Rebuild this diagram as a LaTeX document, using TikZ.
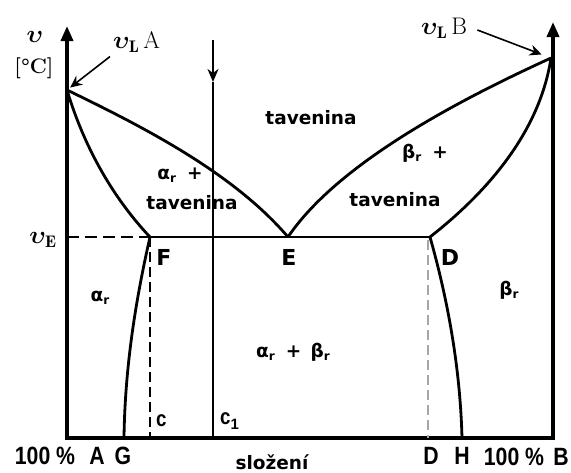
\documentclass[tikz,border=0pt]{standalone}
\usepackage{bm}
\usepackage{fontspec}
\usetikzlibrary{arrows.meta}
\newfontfamily\dvs{DejaVu Sans}
\newfontfamily\lsn{Liberation Sans}
\newcommand\mysubr{\raisebox{-0.35ex}{\fontsize{12}{12}\selectfont r}}
\newcommand\mytheta{\ensuremath{\bm{\upsilon}}}
\newcommand\narrow[1]{\scalebox{0.85}[1]{#1}}
\begin{document}
\begin{tikzpicture}[x=1pt,y=-1pt,
  axisln/.style={line width=3.5pt,line join=miter},
  curveln/.style={line width=2.8pt},
  thinln/.style={line width=1.6pt},
  dashln/.style={line width=1.8pt,dash pattern=on 10pt off 5pt},
  labtxt/.style={font=\dvs\bfseries\fontsize{18.5}{21}\selectfont,inner sep=0pt},
  bigtxt/.style={font=\dvs\bfseries\fontsize{22}{24}\selectfont,inner sep=0pt},
  bottxt/.style={font=\lsn\bfseries\fontsize{25}{27}\selectfont,inner sep=0pt},
  sertxt/.style={font=\fontsize{24}{28}\selectfont,inner sep=0pt}
]
\useasboundingbox (0,0) rectangle (571,472);
% key points
\coordinate (O) at (67,438);
\coordinate (Otop) at (67,26);
\coordinate (R) at (553,438);
\coordinate (Rtop) at (553,22);
\coordinate (A) at (67,90);
\coordinate (B) at (551,58);
\coordinate (E) at (288,237);
\coordinate (F) at (150,237);
\coordinate (D) at (430,237);
\coordinate (G) at (124,438);
\coordinate (H) at (462,438);
\coordinate (VE) at (67,237);
\coordinate (Fb) at (150,438);
\coordinate (Db) at (428,438);
\coordinate (Dt) at (428,240);
\coordinate (C1t) at (213,40);
\coordinate (C1a) at (213,82);
\coordinate (C1b) at (213,438);
% axes
\draw[axisln,{Triangle[length=15pt,width=12pt]}-{Triangle[length=15pt,width=12pt]}]
  (Otop) -- (O) -- (R) -- (Rtop);
% liquidus / solidus / solvus
\draw[curveln] (A) .. controls (150,130) and (235,175) .. (E);
\draw[curveln] (A) .. controls (85,150) and (115,200) .. (F);
\draw[curveln] (B) .. controls (470,95) and (340,160) .. (E);
\draw[curveln] (B) .. controls (540,130) and (490,190) .. (D);
\draw[curveln] (F) .. controls (138,290) and (125,360) .. (G);
\draw[curveln] (D) .. controls (445,290) and (460,360) .. (H);
% eutectic
\draw[line width=2pt,dash pattern=on 12pt off 6pt] (VE) -- (F);
\draw[line width=2pt] (F) -- (D);
% verticals
\draw[dashln] (F) -- (Fb);
\draw[dashln,line width=2.4pt,gray!70] (Dt) -- (Db);
\draw[thinln,-{Stealth[length=13pt,width=11pt,inset=4pt]}] (C1t) -- (C1a);
\draw[thinln] (C1a) -- (C1b);
% axis labels
\node[sertxt] (temp) at (35,37) {\mytheta};
\node[sertxt,font=\bfseries\fontsize{21}{24}\selectfont] (unit) at (34,68) {[\textdegree C]};
\node[sertxt,anchor=west] (lA) at (113,42) {$\bm{\upsilon}_{\mathbf{L}}$\,A};
\node[sertxt,anchor=west] (lB) at (421,28) {$\bm{\upsilon}_{\mathbf{L}}$\,B};
\node[sertxt] (lE) at (43,240) {$\bm{\upsilon}_{\mathbf{E}}$};
\coordinate (lAs) at ([shift={(-3,4)}]lA.south west);
\coordinate (lBs) at ([shift={(10,2)}]lB.east);
\draw[line width=1.6pt,-{Stealth[length=12pt,width=11pt,inset=4pt]},shorten >=4pt]
  (lAs) -- (A);
\draw[line width=1.6pt,-{Stealth[length=12pt,width=11pt,inset=4pt]},shorten >=10pt]
  (lBs) -- (B);
% region labels
\node[labtxt] (liq) at (311,118) {tavenina};
\node[labtxt] (al1) at (180,175) {α\mysubr\hspace{0.6em}+};
\node[labtxt] (liqA) at (192,203) {tavenina};
\node[labtxt] (be1) at (425,153) {β\mysubr\hspace{0.6em}+};
\node[labtxt] (liqB) at (395,200) {tavenina};
\node[labtxt] (alp) at (100,298) {α\mysubr};
\node[labtxt] (bet) at (509,290) {β\mysubr};
\node[labtxt] (ab) at (293,352) {α\mysubr\hspace{0.6em}+\hspace{0.5em}β\mysubr};
\node[bigtxt] (lF) at (164,257) {F};
\node[bigtxt] (lEe) at (289,257) {E};
\node[bigtxt] (lD) at (450,257) {D};
\node[bottxt,anchor=west,font=\lsn\bfseries\fontsize{22}{24}\selectfont] (lc) at (156,421) {\narrow{c}};
\node[bottxt,anchor=west,font=\lsn\bfseries\fontsize{22}{24}\selectfont] (lc1) at (220,421) {\narrow{c}\raisebox{-0.4ex}{\fontsize{15}{15}\selectfont 1}};
% bottom labels
\node[bottxt] (p1) at (45,456) {\narrow{100 \%}};
\node[bottxt] (bA) at (97,456) {\narrow{A}};
\node[bottxt] (bG) at (123,456) {\narrow{G}};
\node[labtxt,anchor=base] (slo) at (272,469) {složení};
\node[bottxt] (bD) at (431,456) {\narrow{D}};
\node[bottxt] (bH) at (462,456) {\narrow{H}};
\node[bottxt] (p2) at (514,457) {\narrow{100 \%}};
\node[bottxt] (bB) at (561,457) {\narrow{B}};
\end{tikzpicture}
\end{document}
